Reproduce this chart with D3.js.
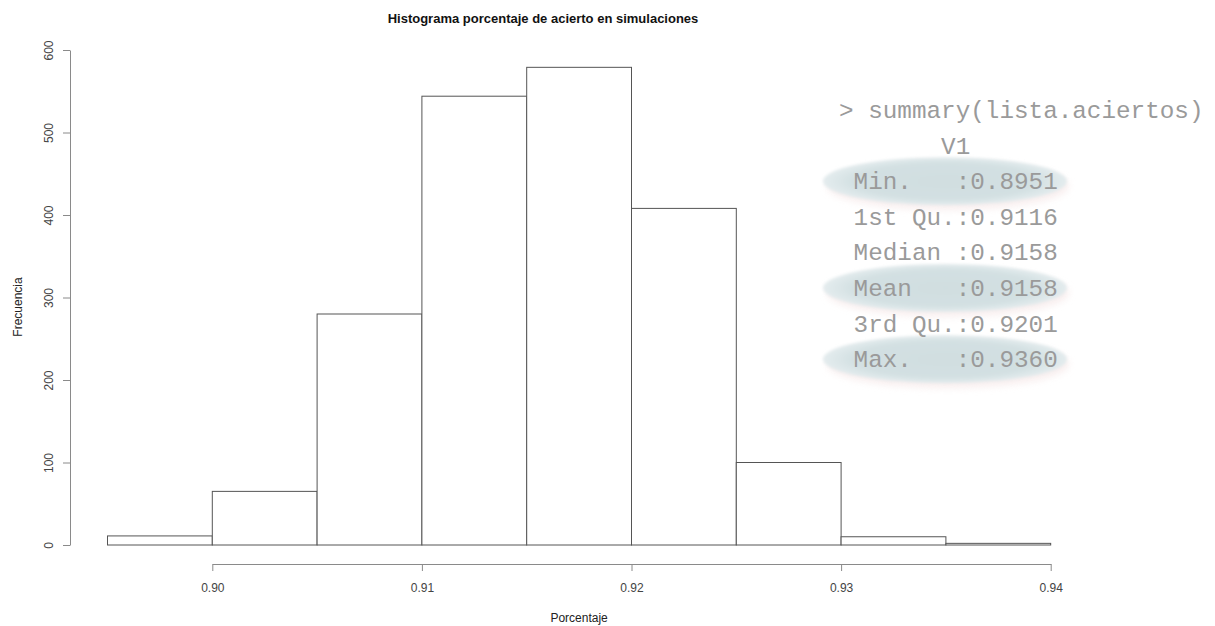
<!DOCTYPE html>
<html>
<head>
<meta charset="utf-8">
<script src="https://cdn.jsdelivr.net/npm/d3@7"></script>
<style>
  html, body { margin: 0; padding: 0; background: #fff; }
  svg { display: block; }
  .summary text { white-space: pre; }
</style>
</head>
<body>
<svg id="chart" width="1215" height="626"></svg>
<script>
// Histogram of hit rates over the simulations
const binEdges = [0.895, 0.900, 0.905, 0.910, 0.915, 0.920, 0.925, 0.930, 0.935, 0.940];
const binCounts = [11, 65, 280, 544, 579, 408, 100, 10, 2];

const xTicks = [0.90, 0.91, 0.92, 0.93, 0.94];
const yTicks = [0, 100, 200, 300, 400, 500, 600];

const titleText = "Histograma porcentaje de acierto en simulaciones";
const xLabel = "Porcentaje";
const yLabel = "Frecuencia";

// R console output pasted next to the histogram
const summaryLines = [
  "> summary(lista.aciertos)",
  "       V1",
  " Min.   :0.8951",
  " 1st Qu.:0.9116",
  " Median :0.9158",
  " Mean   :0.9158",
  " 3rd Qu.:0.9201",
  " Max.   :0.9360"
];
// rows of the summary that carry a highlight
const highlighted = [2, 5, 7];

const svg = d3.select("#chart");

const x = d3.scaleLinear().domain([0.90, 0.94]).range([212.3, 1050.7]);
const y = d3.scaleLinear().domain([0, 600]).range([545, 50]);

const sans = "'Liberation Sans', Arial, Helvetica, sans-serif";

// bars
const bins = binCounts.map((c, i) => ({ x0: binEdges[i], x1: binEdges[i + 1], n: c }));
svg.append("g")
  .selectAll("rect")
  .data(bins)
  .join("rect")
  .attr("x", d => x(d.x0))
  .attr("y", d => y(d.n))
  .attr("width", d => x(d.x1) - x(d.x0))
  .attr("height", d => y(0) - y(d.n))
  .attr("fill", "#fff")
  .attr("stroke", "#555")
  .attr("stroke-width", 1);

// x axis (below the plot region)
const xAxis = svg.append("g")
  .attr("transform", "translate(0,564)")
  .call(d3.axisBottom(x).tickValues(xTicks).tickFormat(d3.format(".2f")).tickSize(7).tickSizeOuter(0));
xAxis.select(".domain").attr("stroke", "#8a8a8a");
xAxis.selectAll(".tick line").attr("stroke", "#8a8a8a");
xAxis.selectAll(".tick text")
  .attr("y", 28).attr("dy", 0)
  .attr("fill", "#444")
  .style("font-family", sans).style("font-size", "12px");

// y axis (left of the plot region), labels rotated as in base R
const yAxis = svg.append("g")
  .attr("transform", "translate(70,0)")
  .call(d3.axisLeft(y).tickValues(yTicks).tickSize(7).tickSizeOuter(0));
yAxis.select(".domain").attr("stroke", "#8a8a8a");
yAxis.selectAll(".tick line").attr("stroke", "#8a8a8a");
yAxis.selectAll(".tick text")
  .attr("transform", "rotate(-90)")
  .attr("x", 0).attr("y", -17).attr("dy", 0)
  .attr("text-anchor", "middle")
  .attr("fill", "#444")
  .style("font-family", sans).style("font-size", "12px");

// titles
svg.append("text")
  .attr("x", 543).attr("y", 22.5)
  .attr("text-anchor", "middle")
  .attr("fill", "#111")
  .style("font-family", sans).style("font-size", "13px").style("font-weight", "bold")
  .text(titleText);

svg.append("text")
  .attr("x", (x(0.895) + x(0.94)) / 2).attr("y", 622)
  .attr("text-anchor", "middle")
  .attr("fill", "#222")
  .style("font-family", sans).style("font-size", "12px")
  .text(xLabel);

svg.append("text")
  .attr("transform", "translate(22,307) rotate(-90)")
  .attr("text-anchor", "middle")
  .attr("fill", "#222")
  .style("font-family", sans).style("font-size", "12px")
  .text(yLabel);

// summary block with soft highlight ellipses
const defs = svg.append("defs");
const grad = defs.append("radialGradient").attr("id", "hl");
grad.append("stop").attr("offset", "0%").attr("stop-color", "#d0dee0");
grad.append("stop").attr("offset", "75%").attr("stop-color", "#d3e0e2");
grad.append("stop").attr("offset", "100%").attr("stop-color", "#e4ecee");
defs.append("filter").attr("id", "soft").attr("x", "-20%").attr("y", "-50%").attr("width", "140%").attr("height", "200%")
  .append("feGaussianBlur").attr("stdDeviation", 1.8);
defs.append("filter").attr("id", "shadow").attr("x", "-20%").attr("y", "-60%").attr("width", "140%").attr("height", "220%")
  .append("feGaussianBlur").attr("stdDeviation", 3.5);

const sumX = 839, firstBase = 118, lineStep = 35.6;
const summary = svg.append("g").attr("class", "summary");

const hl = summary.append("g");
highlighted.forEach(i => {
  const cy = firstBase + i * lineStep - 8;
  hl.append("ellipse")
    .attr("cx", 948).attr("cy", cy + 5).attr("rx", 121).attr("ry", 24)
    .attr("fill", "#f4e4e4").attr("opacity", 0.6).attr("filter", "url(#shadow)");
  hl.append("ellipse")
    .attr("cx", 945).attr("cy", cy).attr("rx", 122).attr("ry", 24)
    .attr("fill", "url(#hl)").attr("filter", "url(#soft)");
});

summary.selectAll("text")
  .data(summaryLines)
  .join("text")
  .attr("x", sumX)
  .attr("y", (d, i) => firstBase + i * lineStep)
  .attr("fill", "#9a9a9a")
  .style("font-family", "'Liberation Mono', 'Courier New', monospace")
  .style("font-size", "24.3px")
  .text(d => d);
</script>
</body>
</html>
